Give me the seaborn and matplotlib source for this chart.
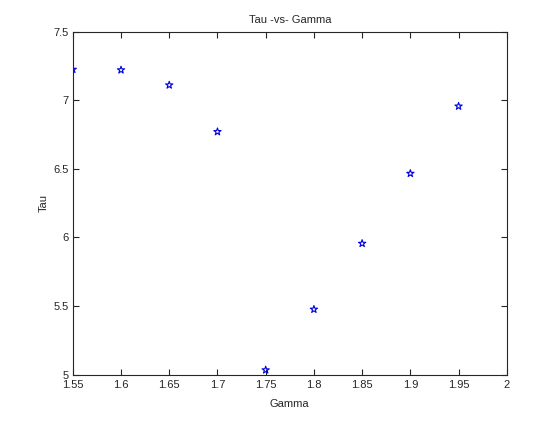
import seaborn as sns
import matplotlib
matplotlib.use("Agg")
import matplotlib.pyplot as plt
import matplotlib.ticker as mticker
import pandas as pd

gamma = [1.55, 1.60, 1.65, 1.70, 1.75, 1.80, 1.85, 1.90, 1.95]
tau = [7.224, 7.22, 7.11, 6.77, 5.034, 5.476, 5.956, 6.466, 6.956]
xticks = [1.55, 1.6, 1.65, 1.7, 1.75, 1.8, 1.85, 1.9, 1.95, 2]
yticks = [5, 5.5, 6, 6.5, 7, 7.5]

df = pd.DataFrame({"Gamma": gamma, "Tau": tau})

sns.set_style("ticks")
plt.rcParams['font.family'] = ['Liberation Sans', 'DejaVu Sans']

fig = plt.figure(figsize=(5.6, 4.21), dpi=100)
ax = fig.add_axes([0.13, 0.11, 0.775, 0.815])

sns.scatterplot(data=df, x="Gamma", y="Tau", ax=ax, marker="*", s=30,
                facecolor="none", edgecolor="#0000e0", linewidth=0.8)

ax.set_xlim(1.55, 2)
ax.set_ylim(5, 7.5)
ax.set_xticks(xticks)
ax.set_yticks(yticks)
ax.xaxis.set_major_formatter(mticker.FormatStrFormatter('%g'))
ax.yaxis.set_major_formatter(mticker.FormatStrFormatter('%g'))
ax.tick_params(direction='in', top=True, right=True, length=4, width=0.8,
               labelsize=8)
ax.tick_params(axis='x', pad=4)
ax.tick_params(axis='y', pad=3)
for s in ax.spines.values():
    s.set_visible(True)
    s.set_linewidth(0.8)

ax.set_title("Tau -vs- Gamma", fontsize=8)
ax.set_xlabel("Gamma", fontsize=8, labelpad=6)
ax.set_ylabel("Tau", fontsize=8, labelpad=3)

fig.savefig("out.png", dpi=100)
